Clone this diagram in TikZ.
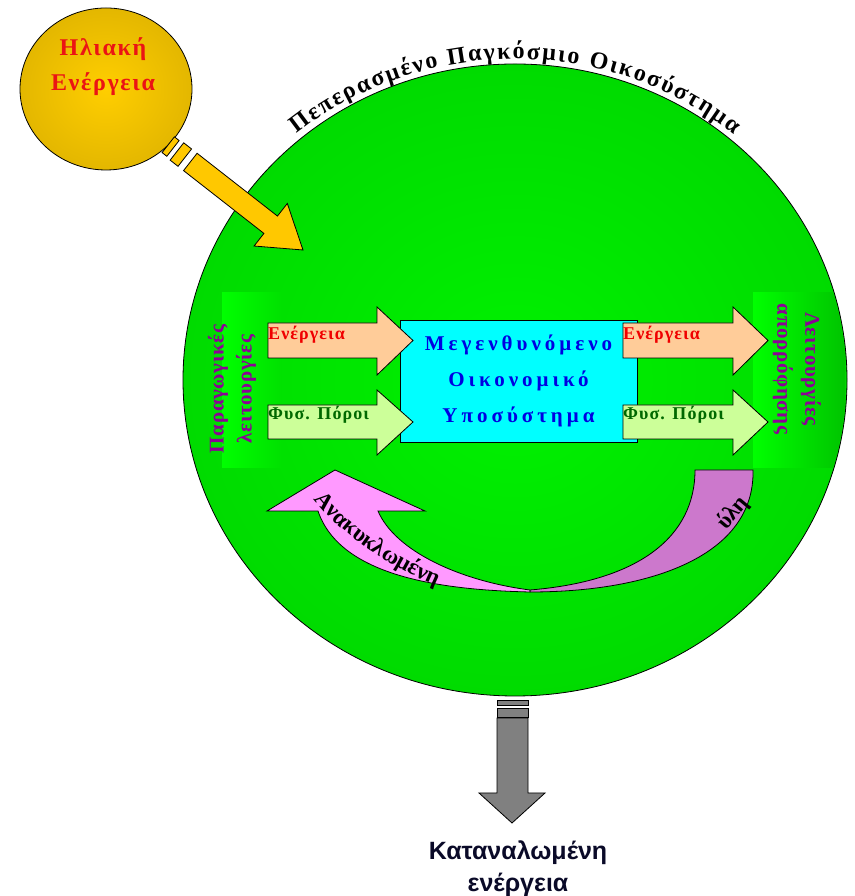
\documentclass[tikz,border=0pt]{standalone}
\usepackage{fontspec}
\setmainfont{Liberation Serif}
\newfontfamily\labelsans{Liberation Sans}
\usetikzlibrary{shapes.geometric, decorations.text}

\definecolor{ecolight}{RGB}{0,242,0}
\definecolor{ecodark}{RGB}{0,196,0}
\definecolor{stripbright}{RGB}{0,255,0}
\definecolor{stripdim}{RGB}{0,225,0}
\definecolor{sunlight}{RGB}{255,206,0}
\definecolor{sundark}{RGB}{200,160,0}
\definecolor{sunarrow}{RGB}{255,200,0}
\definecolor{sunred}{RGB}{235,20,20}
\definecolor{econcyan}{RGB}{0,255,255}
\definecolor{econblue}{RGB}{0,0,225}
\definecolor{energypeach}{RGB}{255,204,153}
\definecolor{energyred}{RGB}{240,0,0}
\definecolor{respale}{RGB}{204,255,153}
\definecolor{resgreen}{RGB}{0,105,0}
\definecolor{sidepurple}{RGB}{140,0,150}
\definecolor{recpink}{RGB}{255,153,255}
\definecolor{recorchid}{RGB}{204,120,204}
\definecolor{usedgray}{RGB}{128,128,128}
\definecolor{usedtext}{RGB}{10,10,40}

\pgfdeclareradialshading{ecoglow}{\pgfpoint{0bp}{0bp}}{color(0bp)=(ecolight); color(50bp)=(ecodark)}
\pgfdeclareradialshading{sunglow}{\pgfpoint{0bp}{0bp}}{color(0bp)=(sunlight); color(50bp)=(sundark)}

\begin{document}
\begin{tikzpicture}[x=1pt, y=1pt,
    arrowshape/.style={draw=black, line width=0.8pt, line join=miter},
    arrowtext/.style={anchor=base west, inner sep=0pt,
                      font=\fontsize{18}{20}\selectfont\bfseries\addfontfeatures{LetterSpace=6}},
    sidetext/.style={inner sep=0pt, align=center, text=sidepurple,
                     font=\fontsize{21}{28}\selectfont\bfseries\addfontfeatures{LetterSpace=3}},
    strip/.style={inner sep=0pt, minimum height=175pt}
  ]
  \useasboundingbox (0,0) rectangle (854,896);

  % used energy leaving the ecosystem
  \draw[arrowshape, fill=usedgray] (497,178) -- (528,178) -- (528,103) -- (545,103) -- (512,73) -- (479,103) -- (497,103) -- cycle;
  \draw[arrowshape, fill=usedgray] (497,179) rectangle (528,188);
  \draw[arrowshape, fill=usedgray] (497,191) rectangle (528,196);

  % the ecosystem
  \node[ellipse, draw=black, line width=0.8pt, shade, shading=ecoglow,
        minimum width=664pt, minimum height=632pt, inner sep=0pt] (eco) at (515,516) {};

  \node[strip, minimum width=59pt, left color=stripbright, right color=stripdim] (prodstrip) at (251.5,515.5) {};
  \begin{scope}
    \clip (eco.center) ellipse [x radius=331pt, y radius=315pt];
    \node[strip, minimum width=92pt, left color=stripbright, right color=ecodark] (sinkstrip) at (799,515.5) {};
  \end{scope}
  \node[sidetext, rotate=90] (prodtext) at (232,507) {Παραγωγικές\\λειτουργίες};
  \node[sidetext, rotate=-90] (sinktext) at (797,527) {Λειτουργίες\\απορρόφησης};

  \node[draw=black, line width=0.8pt, fill=econcyan, minimum width=237pt, minimum height=122pt,
        inner sep=0pt, align=center, text=econblue,
        font=\fontsize{21}{36}\selectfont\bfseries\addfontfeatures{LetterSpace=19}] (econ) at (518.5,515)
        {Μεγενθυνόμενο\\Οικονομικό\\Υποσύστημα};

  % flows in and out
  \draw[arrowshape, fill=energypeach] (268,538) -- (377,538) -- (377,521) -- (413,555.5) -- (377,589) -- (377,573) -- (268,573) -- cycle;
  \draw[arrowshape, fill=respale] (268,457) -- (377,457) -- (377,441) -- (413,474) -- (377,506) -- (377,491) -- (268,491) -- cycle;
  \draw[arrowshape, fill=energypeach] (623,538) -- (733,538) -- (733,521) -- (768,555.5) -- (733,589) -- (733,573) -- (623,573) -- cycle;
  \draw[arrowshape, fill=respale] (623,457) -- (733,457) -- (733,441) -- (768,474) -- (733,506) -- (733,491) -- (623,491) -- cycle;
  \node[arrowtext, text=energyred] (ein) at (268,556) {Ενέργεια};
  \node[arrowtext, text=resgreen] (rin) at (268,476) {Φυσ. Πόροι};
  \node[arrowtext, text=energyred] (eout) at (623,556) {Ενέργεια};
  \node[arrowtext, text=resgreen] (rout) at (623,476) {Φυσ. Πόροι};

  % recycled matter
  \draw[arrowshape, fill=recorchid] (695,426) -- (753,426) .. controls (755,340) and (650,304) .. (530,304)
    -- (530,306) .. controls (640,315) and (695,360) .. (695,426) -- cycle;
  \draw[arrowshape, fill=recpink] (318,385) -- (267,385) -- (335,426) -- (425,385) -- (378,385)
    .. controls (395,345) and (460,315) .. (530,306) -- (530,304) .. controls (440,306) and (340,320) .. (318,385) -- cycle;
  \path[decorate, decoration={text along path, text align=left,
        text={|\fontsize{23}{25}\selectfont\bfseries|Ανακυκλωμένη}}]
    (314,397) .. controls (338,366) and (385,328) .. (460,300);
  \node[rotate=50, inner sep=0pt, font=\fontsize{23}{25}\selectfont\bfseries] (mattertext) at (733,383) {ύλη};

  % the sun
  \node[ellipse, draw=black, line width=0.8pt, shade, shading=sunglow,
        minimum width=172pt, minimum height=162pt, inner sep=0pt] (sun) at (106,807) {};
  \node[text=sunred, align=center, inner sep=0pt,
        font=\fontsize{24}{35}\selectfont\bfseries\addfontfeatures{LetterSpace=7}] (suntext) at (103,829) {Ηλιακή\\Ενέργεια};
  \begin{scope}[shift={(303,646)}, rotate=-38]
    \draw[arrowshape, fill=sunarrow] (0,0) -- (-41,27) -- (-41,11) -- (-143,11) -- (-143,-11) -- (-41,-11) -- (-41,-27) -- cycle;
    \draw[arrowshape, fill=sunarrow] (-160,-11) rectangle (-150,11);
    \draw[arrowshape, fill=sunarrow] (-171,-10) rectangle (-165,10);
  \end{scope}

  \path[decorate, decoration={text along path, text align={fit to path},
        text={|\fontsize{24}{26}\selectfont\bfseries|Πεπερασμένο Παγκόσμιο Οικοσύστημα}}]
    (eco.center) ++(130:340pt and 321pt) arc[start angle=130, end angle=50, x radius=340pt, y radius=321pt];

  \node[align=center, inner sep=0pt, text=usedtext,
        font=\labelsans\bfseries\fontsize{25}{32}\selectfont] (usedlabel) at (518,27) {Καταναλωμένη\\ενέργεια};
\end{tikzpicture}
\end{document}
